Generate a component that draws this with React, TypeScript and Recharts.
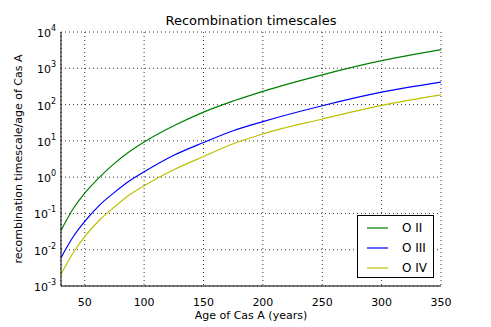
import { LineChart, Line, XAxis, YAxis, CartesianGrid } from 'recharts'

// Alter von Cas A (Jahre) und Rekombinations-Zeitskala / Alter
const ages = [30, 40, 50, 62.5, 75, 87.5, 100, 125, 150, 175, 200, 250, 300, 350]
const oII = [0.034, 0.13, 0.36, 1.0, 2.4, 5.0, 9.3, 26, 62, 125, 232, 660, 1620, 3250]
const oIII = [0.006, 0.022, 0.06, 0.17, 0.38, 0.78, 1.4, 4.0, 9.0, 19, 34, 93, 220, 415]
const oIV = [0.0021, 0.008, 0.023, 0.066, 0.15, 0.32, 0.58, 1.6, 3.7, 8.3, 15.5, 40, 95, 185]

const xTicks = [50, 100, 150, 200, 250, 300, 350]
const yExponents = [-3, -2, -1, 0, 1, 2, 3, 4]
const yTicks = yExponents.map((e) => Math.pow(10, e))
const yMinor = yExponents.slice(0, -1).flatMap((e) =>
  [2, 3, 4, 5, 6, 7, 8, 9].map((m) => m * Math.pow(10, e))
)

const series = [
  { key: 'o2', name: 'O II', color: '#008000' },
  { key: 'o3', name: 'O III', color: '#0000ff' },
  { key: 'o4', name: 'O IV', color: '#bfbf00' },
]

const data = ages.map((x, i) => ({ x, o2: oII[i], o3: oIII[i], o4: oIV[i] }))

const FONT = '"DejaVu Sans", sans-serif'
const Y_DOMAIN: [number, number] = [0.001, 10000]

function PowerTick(props: any) {
  const { x, y, payload } = props
  const exp = Math.round(Math.log10(payload.value))
  return (
    <text x={x} y={y} dy={5} textAnchor="end" fontSize={11} fill="#000" fontFamily={FONT}>
      <tspan>10</tspan>
      <tspan dy={-6} fontSize={8}>{exp}</tspan>
    </text>
  )
}

export default function App() {
  return (
    <div style={{ position: 'absolute', left: 0, top: 0, width: 491, height: 327, background: '#fff', fontFamily: FONT }}>
      <div style={{ position: 'absolute', left: 0, top: 13, width: 502, textAlign: 'center', fontSize: 13 }}>
        Recombination timescales
      </div>
      <LineChart width={491} height={327} data={data} margin={{ top: 32, right: 50, bottom: 0, left: 0 }}>
        <CartesianGrid yAxisId="y" xAxisId="x" stroke="#000" strokeDasharray="1 3" strokeWidth={0.8} />
        <XAxis
          xAxisId="x" dataKey="x" type="number" domain={[30, 350]} ticks={xTicks}
          height={41} axisLine={{ stroke: '#000' }} tickLine={false} tickMargin={6}
          tick={{ fill: '#000', fontSize: 11, fontFamily: FONT }}
          label={{ value: 'Age of Cas A (years)', position: 'insideBottom', offset: 8, fill: '#000', fontSize: 11, fontFamily: FONT }}
        />
        <XAxis xAxisId="xb" dataKey="x" type="number" domain={[30, 350]} ticks={xTicks}
          orientation="bottom" mirror tick={false} axisLine={false} tickSize={4} tickLine={{ stroke: '#000' }} height={41} />
        <XAxis xAxisId="xt" dataKey="x" type="number" domain={[30, 350]} ticks={xTicks}
          orientation="top" mirror tick={false} axisLine={{ stroke: '#000' }} tickSize={4} tickLine={{ stroke: '#000' }} height={0} />
        <YAxis
          yAxisId="y" type="number" scale="log" domain={Y_DOMAIN} ticks={yTicks} allowDataOverflow
          width={61} axisLine={{ stroke: '#000' }} tickLine={false} tickSize={0} tickMargin={5}
          tick={<PowerTick />}
          label={{ value: 'recombination timescale/age of Cas A', angle: -90, position: 'insideLeft', offset: 18, style: { textAnchor: 'middle' }, fill: '#000', fontSize: 11, fontFamily: FONT }}
        />
        <YAxis yAxisId="yl" type="number" scale="log" domain={Y_DOMAIN} ticks={yTicks} allowDataOverflow
          orientation="left" mirror tick={false} axisLine={false} tickSize={4} tickLine={{ stroke: '#000' }} width={0} />
        <YAxis yAxisId="ylm" type="number" scale="log" domain={Y_DOMAIN} ticks={yMinor} allowDataOverflow
          orientation="left" mirror tick={false} axisLine={false} tickSize={2} tickLine={{ stroke: '#000' }} width={0} />
        <YAxis yAxisId="yr" type="number" scale="log" domain={Y_DOMAIN} ticks={yTicks} allowDataOverflow
          orientation="right" mirror tick={false} axisLine={{ stroke: '#000' }} tickSize={4} tickLine={{ stroke: '#000' }} width={0} />
        <YAxis yAxisId="yrm" type="number" scale="log" domain={Y_DOMAIN} ticks={yMinor} allowDataOverflow
          orientation="right" mirror tick={false} axisLine={false} tickSize={2} tickLine={{ stroke: '#000' }} width={0} />
        {series.map((s) => (
          <Line
            key={s.key} xAxisId="x" yAxisId="y" dataKey={s.key} name={s.name}
            type="monotone" stroke={s.color} strokeWidth={1.2} dot={false} isAnimationActive={false}
          />
        ))}
      </LineChart>
      <div style={{
        position: 'absolute', left: 357, top: 215, width: 77, height: 63,
        border: '1px solid #000', background: '#fff', boxSizing: 'border-box',
      }}>
        {series.map((s, i) => (
          <div key={s.key} style={{ position: 'absolute', left: 9, top: 4 + i * 20, height: 16, display: 'flex', alignItems: 'center' }}>
            <svg width={21} height={4} style={{ display: 'block' }}>
              <line x1={0} x2={21} y1={2} y2={2} stroke={s.color} strokeWidth={1.2} />
            </svg>
            <span style={{ marginLeft: 14, fontSize: 12, color: '#000' }}>{s.name}</span>
          </div>
        ))}
      </div>
    </div>
  )
}
